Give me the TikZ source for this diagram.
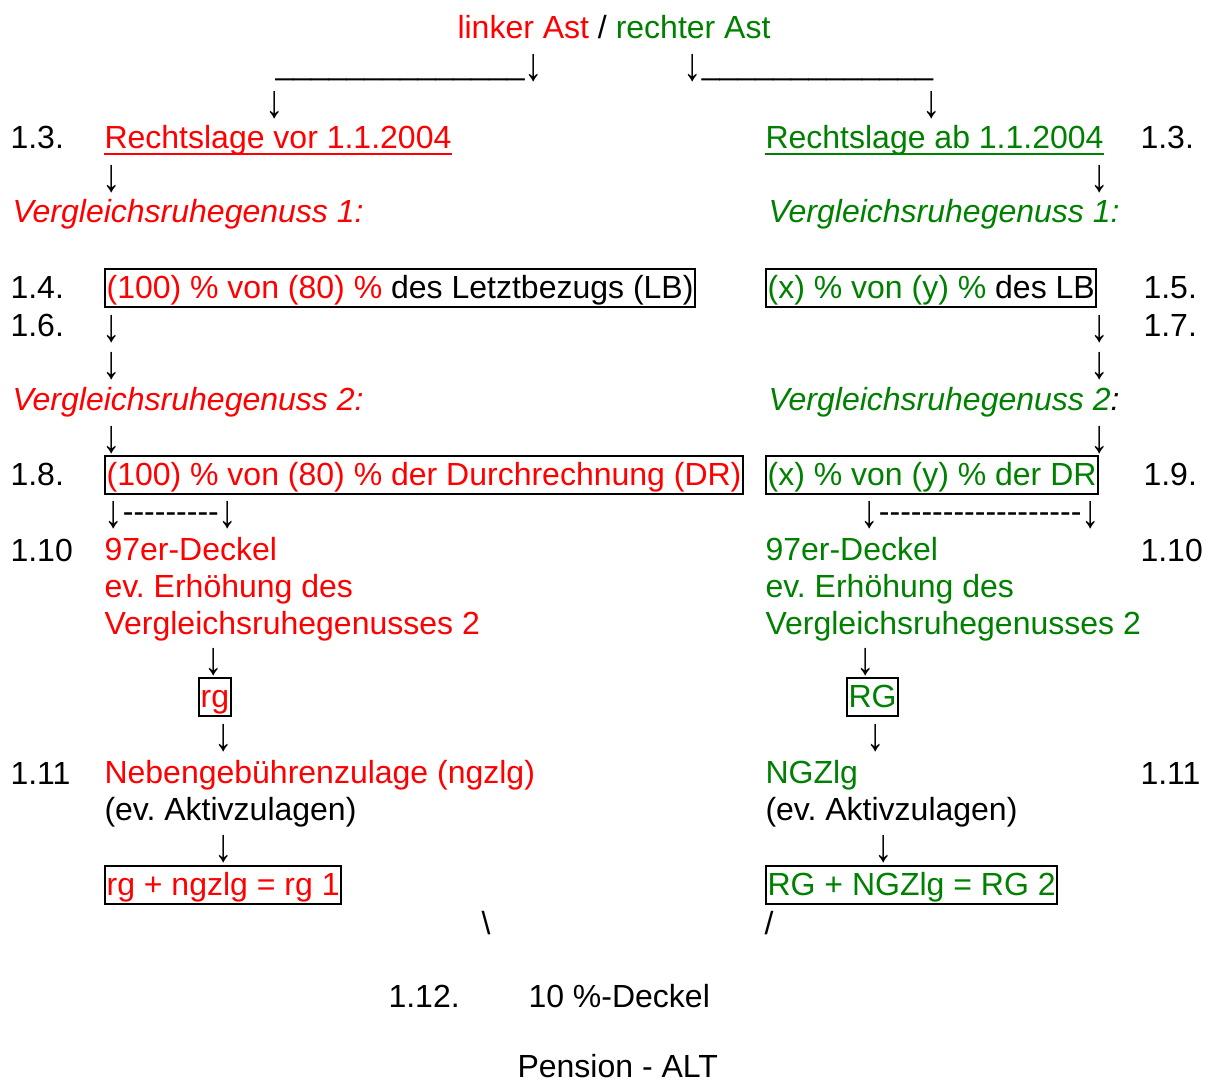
\documentclass[tikz,border=0pt]{standalone}
\usepackage{fontspec}
\setmainfont{Liberation Sans}
\frenchspacing
\definecolor{rot}{RGB}{255,0,0}
\definecolor{gruen}{RGB}{0,128,0}
\newcommand{\pf}{\raisebox{-1.9pt}[7.5pt][1.9pt]{\scalebox{1.15}[1.45]{↓}}}
\newcommand{\strich}{-{}}

\begin{document}
\begin{tikzpicture}[x=0.375pt, y=-0.375pt, font=\fontsize{12pt}{13.8pt}\selectfont,
    zeile/.style={anchor=base west, inner sep=0pt},
    pfeil/.style={anchor=base, inner sep=0pt},
    kasten/.style={anchor=base west, draw, line width=0.75pt, inner xsep=0.6pt, inner ysep=0.6pt, text height=10.3pt, text depth=2.8pt}]
    \useasboundingbox (0,-2) rectangle (1214,1079);

    % Kopf
    \node[pfeil] (kopf) at (614,37) {\textcolor{rot}{linker Ast} / \textcolor{gruen}{rechter Ast}};
    \node[zeile] (astL) at (275,73) {\_\_\_\_\_\_\_\_\_\_\_\_\_\_\pf};
    \node[zeile] (astR) at (683,73) {\pf\_\_\_\_\_\_\_\_\_\_\_\_\_};
    \node[pfeil] (pA1) at (275,110) {\pf};
    \node[pfeil] (pB1) at (932,110) {\pf};

    % 1.3.
    \node[zeile] (n13L) at (10,147) {1.3.};
    \node[zeile, text=rot] (lageL) at (104,147) {Rechtslage vor 1.1.2004};
    \node[zeile, text=gruen] (lageR) at (765,147) {Rechtslage ab 1.1.2004};
    \node[zeile] (n13R) at (1140,147) {1.3.};
    \draw[rot, line width=0.75pt] ([yshift=-1.9pt]lageL.base west) -- ([yshift=-1.9pt]lageL.base east);
    \draw[gruen, line width=0.75pt] ([yshift=-1.9pt]lageR.base west) -- ([yshift=-1.9pt]lageR.base east);
    \node[pfeil] (pA2) at (112,184) {\pf};
    \node[pfeil] (pB2) at (1100,184) {\pf};
    \node[zeile, text=rot] (vrg1L) at (12,221) {\itshape Vergleichsruhegenuss 1:};
    \node[zeile, text=gruen] (vrg1R) at (768,221) {\itshape Vergleichsruhegenuss 1:};

    % 1.4. / 1.5.
    \node[zeile] (n14) at (10,296) {1.4.};
    \node[kasten] (lbL) at (104,296) {\textcolor{rot}{(100) \% von (80) \%} des Letztbezugs (LB)};
    \node[kasten] (lbR) at (765,296) {\textcolor{gruen}{(x) \% von (y) \%} des LB};
    \node[zeile] (n15) at (1143,296) {1.5.};

    % 1.6. / 1.7.
    \node[zeile] (n16) at (10,334) {1.6.};
    \node[pfeil] (pA3) at (112,334) {\pf};
    \node[pfeil] (pB3) at (1100,334) {\pf};
    \node[zeile] (n17) at (1143,334) {1.7.};
    \node[pfeil] (pA4) at (112,371) {\pf};
    \node[pfeil] (pB4) at (1100,371) {\pf};
    \node[zeile, text=rot] (vrg2L) at (12,408) {\itshape Vergleichsruhegenuss 2:};
    \node[zeile, text=gruen] (vrg2R) at (768,408) {\itshape Vergleichsruhegenuss 2\textcolor{black}{:}};
    \node[pfeil] (pA5) at (112,445) {\pf};
    \node[pfeil] (pB5) at (1100,445) {\pf};

    % 1.8. / 1.9.
    \node[zeile] (n18) at (10,483) {1.8.};
    \node[kasten, text=rot] (drL) at (104,483) {(100) \% von (80) \% der Durchrechnung (DR)};
    \node[kasten, text=gruen] (drR) at (765,483) {(x) \% von (y) \% der DR};
    \node[zeile] (n19) at (1143,483) {1.9.};
    \node[zeile] (gabelL) at (104,520) {\pf\strich\strich\strich\strich\strich\strich\strich\strich\strich\pf};
    \node[zeile] (gabelR) at (860,520) {\pf\strich\strich\strich\strich\strich\strich\strich\strich\strich\strich\strich\strich\strich\strich\strich\strich\strich\strich\strich\pf};

    % 1.10 (Knoten mit mehreren Zeilen: Grundlinie der letzten Zeile)
    \node[zeile] (n110L) at (10,559) {1.10};
    \node[zeile, text=rot, align=left] (dkL) at (104,632) {97er-Deckel\\ev. Erhöhung des\\Vergleichsruhegenusses 2};
    \node[zeile, text=gruen, align=left] (dkR) at (765,632) {97er-Deckel\\ev. Erhöhung des\\Vergleichsruhegenusses 2};
    \node[zeile] (n110R) at (1140,559) {1.10};
    \node[pfeil] (pA6) at (214,667) {\pf};
    \node[pfeil] (pB6) at (866,667) {\pf};
    \node[kasten, text=rot] (rgL) at (198,705) {rg};
    \node[kasten, text=gruen] (rgR) at (846,705) {RG};
    \node[pfeil] (pA7) at (224,743) {\pf};
    \node[pfeil] (pB7) at (876,743) {\pf};

    % 1.11
    \node[zeile] (n111L) at (10,782) {1.11};
    \node[zeile, align=left] (ngL) at (104,818) {\textcolor{rot}{Nebengebührenzulage (ngzlg)}\\(ev. Aktivzulagen)};
    \node[zeile, align=left] (ngR) at (765,818) {\textcolor{gruen}{NGZlg}\\(ev. Aktivzulagen)};
    \node[zeile] (n111R) at (1140,782) {1.11};
    \node[pfeil] (pA8) at (224,854) {\pf};
    \node[pfeil] (pB8) at (884,854) {\pf};
    \node[kasten, text=rot] (sumL) at (104,893) {rg + ngzlg = rg 1};
    \node[kasten, text=gruen] (sumR) at (765,893) {RG + NGZlg = RG 2};
    \node[zeile] (zuL) at (481,932) {\textbackslash};
    \node[zeile] (zuR) at (764,932) {/};

    % 1.12.
    \node[zeile] (n112) at (388,1005) {1.12.};
    \node[zeile] (deckel) at (528,1005) {10 \%-Deckel};
    \node[zeile] (pension) at (517,1075) {Pension - ALT};

  \end{tikzpicture}
\end{document}
